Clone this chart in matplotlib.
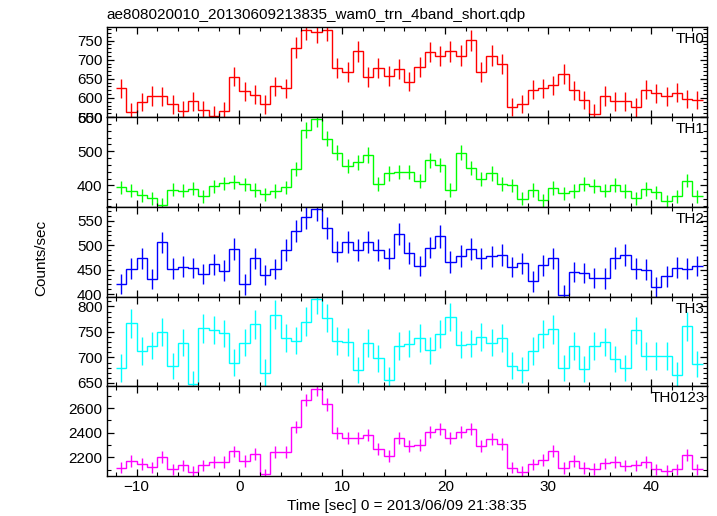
import numpy as np
import matplotlib
matplotlib.use("Agg")
import matplotlib.pyplot as plt
from matplotlib.ticker import MultipleLocator

plt.rcParams['font.family'] = ['Liberation Sans', 'DejaVu Sans']

# 1-sec bins starting at t = -12 s (0 = 2013/06/09 21:38:35)
t_first = -12
bin_width = 1.0

th0 = [625, 562, 590, 605, 604, 583, 567, 591, 569, 554, 566, 656,
       618, 609, 583, 630, 625, 732, 779, 772, 777, 679, 667, 722, 654, 679, 658, 676,
       643, 680, 720, 710, 722, 711, 751, 667, 711, 690, 577, 584, 621, 625, 633, 662,
       620, 594, 559, 605, 591, 591, 575, 622, 612, 604, 614, 598, 594]
th0_err = [25, 24, 24, 25, 25, 24, 24, 24, 24, 24, 24, 26,
           25, 25, 24, 25, 25, 27, 28, 28, 28, 26, 26, 27, 26, 26, 26, 26,
           25, 26, 27, 27, 27, 27, 27, 26, 27, 26, 24, 24, 25, 25, 25, 26,
           25, 24, 24, 25, 24, 24, 24, 25, 25, 25, 25, 24, 24]

th1 = [394, 385, 371, 362, 343, 388, 385, 391, 368, 397, 406, 410,
       403, 386, 374, 383, 394, 448, 562, 595, 537, 495, 456, 468, 489, 404, 435, 439,
       439, 412, 474, 459, 386, 495, 451, 418, 435, 404, 400, 361, 386, 356, 392, 377,
       383, 404, 398, 385, 401, 383, 362, 390, 380, 354, 369, 414, 368]
th1_err = [20, 20, 19, 19, 19, 20, 20, 20, 19, 20, 20, 20,
           20, 20, 19, 20, 20, 21, 24, 24, 23, 22, 21, 22, 22, 20, 21, 21,
           21, 20, 22, 21, 20, 22, 21, 20, 21, 20, 20, 19, 20, 19, 20, 19,
           20, 20, 20, 20, 20, 20, 19, 20, 19, 19, 19, 20, 19]

th2 = [421, 452, 473, 431, 506, 452, 456, 453, 441, 461, 448, 492,
       420, 473, 439, 451, 490, 529, 558, 574, 535, 487, 507, 490, 507, 490, 473, 523,
       484, 457, 495, 518, 466, 478, 492, 473, 477, 480, 455, 463, 426, 459, 473, 399,
       445, 443, 433, 432, 474, 480, 452, 450, 414, 436, 454, 452, 457]
th2_err = [21, 21, 22, 21, 22, 21, 21, 21, 21, 21, 21, 22,
           21, 22, 21, 21, 22, 23, 24, 24, 23, 22, 23, 22, 23, 22, 22, 23,
           22, 21, 22, 23, 22, 22, 22, 22, 22, 22, 21, 22, 21, 21, 22, 20,
           21, 21, 21, 21, 22, 22, 21, 21, 20, 21, 21, 21, 21]

th3 = [679, 767, 713, 723, 750, 683, 729, 648, 757, 754, 747, 690,
       729, 765, 670, 784, 738, 733, 770, 815, 777, 732, 730, 675, 728, 698, 655, 722,
       727, 738, 714, 746, 779, 725, 727, 740, 729, 738, 684, 675, 713, 746, 755, 679,
       722, 677, 722, 730, 697, 679, 753, 703, 703, 703, 666, 761, 687]
th3_err = [27, 28, 27, 27, 28, 26, 27, 26, 28, 28, 27, 26,
           27, 28, 26, 28, 27, 27, 28, 29, 28, 27, 27, 26, 27, 26, 26, 27,
           27, 27, 27, 27, 28, 27, 27, 27, 27, 27, 26, 26, 27, 27, 28, 26,
           27, 26, 27, 27, 26, 26, 27, 27, 27, 27, 26, 28, 26]

th0123 = [2116, 2168, 2146, 2119, 2202, 2103, 2135, 2081, 2135, 2164, 2164, 2249,
          2168, 2229, 2062, 2245, 2245, 2443, 2667, 2754, 2630, 2395, 2357, 2354, 2379, 2265, 2213, 2354,
          2289, 2297, 2403, 2427, 2354, 2405, 2432, 2294, 2349, 2308, 2116, 2083, 2143, 2178, 2251, 2113,
          2168, 2113, 2105, 2151, 2162, 2132, 2135, 2162, 2103, 2092, 2103, 2221, 2103]
th0123_err = [46, 47, 46, 46, 47, 46, 46, 46, 46, 47, 47, 47,
              47, 47, 45, 47, 47, 49, 52, 52, 51, 49, 49, 49, 49, 48, 47, 49,
              48, 48, 49, 49, 49, 49, 49, 48, 48, 48, 46, 46, 46, 47, 47, 46,
              47, 46, 46, 46, 46, 46, 46, 46, 46, 46, 46, 47, 46]

panels = [
    ('TH0', th0, th0_err, '#ff0000', (550, 785), 50, 10),
    ('TH1', th1, th1_err, '#00ff00', (337.6, 600), 100, 20),
    ('TH2', th2, th2_err, '#0000ff', (395, 578.6), 50, 10),
    ('TH3', th3, th3_err, '#00ffff', (643.4, 819.5), 50, 10),
    ('TH0123', th0123, th0123_err, '#ff00ff', (2048, 2778), 200, 100),
]

n = len(th0)
edges = t_first + bin_width * np.arange(n + 1)
centers = edges[:-1] + bin_width / 2

fig = plt.figure(figsize=(7.17, 5.16), dpi=100)
gs = fig.add_gridspec(5, 1, left=0.1488, right=0.9856, top=0.9471, bottom=0.0775, hspace=0)

for i, (name, vals, errs, col, ylim, major, minor) in enumerate(panels):
    ax = fig.add_subplot(gs[i])
    ax.stairs(vals, edges, baseline=None, color=col, lw=1.0)
    ax.errorbar(centers, vals, yerr=errs, fmt='none', ecolor=col, elinewidth=1.0)
    ax.set_xlim(-12.9, 45.4)
    ax.set_ylim(*ylim)
    ax.xaxis.set_major_locator(MultipleLocator(10))
    ax.xaxis.set_minor_locator(MultipleLocator(2))
    ax.yaxis.set_major_locator(MultipleLocator(major))
    ax.yaxis.set_minor_locator(MultipleLocator(minor))
    ax.tick_params(which='both', direction='in', top=True, right=True, labelsize=11, pad=3)
    ax.tick_params(which='major', length=5, width=0.9)
    ax.tick_params(which='minor', length=3, width=0.8)
    for s in ax.spines.values():
        s.set_linewidth(1.0)
    if i < 4:
        ax.tick_params(labelbottom=False)
    ax.text(0.9968, 1 - 16 / 89.75, name, transform=ax.transAxes, ha='right', va='baseline', fontsize=11)

fig.text(106 / 717, 1 - 18.5 / 516, 'ae808020010_20130609213835_wam0_trn_4band_short.qdp',
         ha='left', va='baseline', fontsize=11)
fig.text(41.5 / 717, 1 - 258 / 516, 'Counts/sec', rotation=90, ha='center', va='center', fontsize=11)
fig.text((106.7 + 706.7) / 2 / 717, 1 - 510 / 516, 'Time [sec] 0 = 2013/06/09 21:38:35',
         ha='center', va='baseline', fontsize=11)

fig.savefig('out.png', dpi=100)
